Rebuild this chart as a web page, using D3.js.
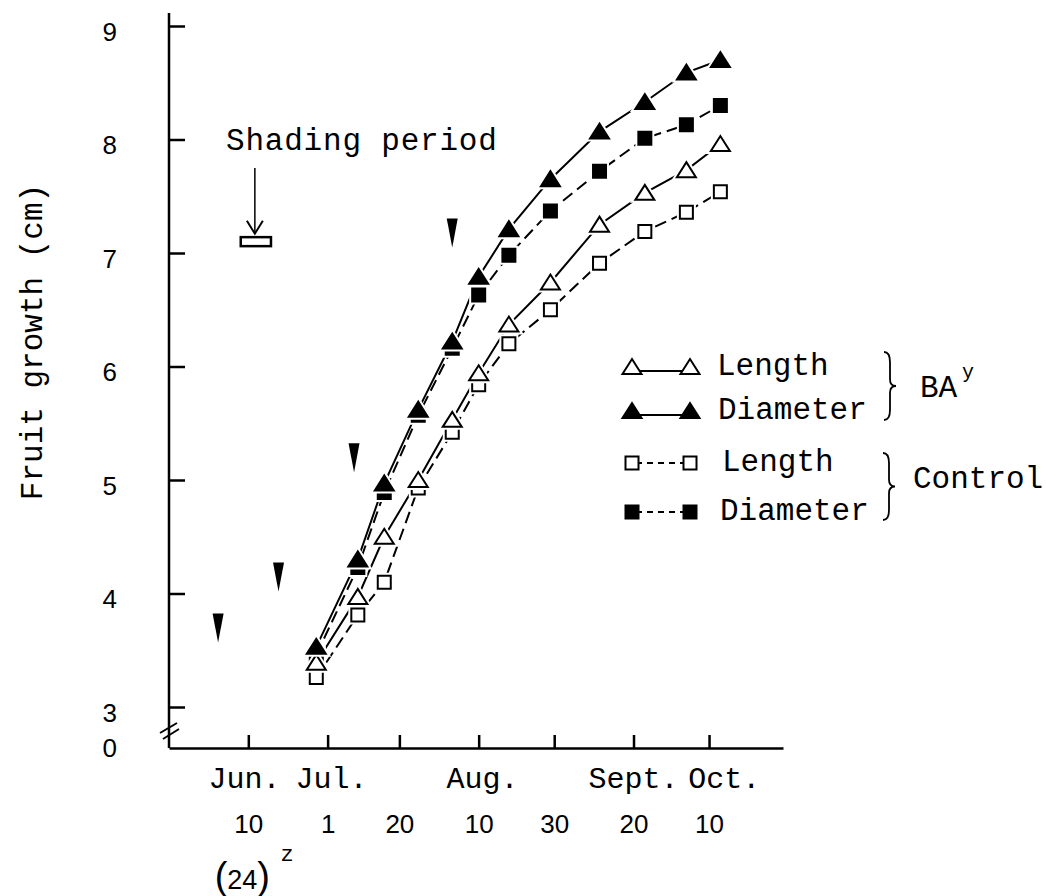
<!DOCTYPE html>
<html>
<head>
<meta charset="utf-8">
<script src="https://cdn.jsdelivr.net/npm/d3@7"></script>
<style>
  body { margin: 0; background: #fff; }
  svg { display: block; }
  .mono { font-family: "Liberation Mono", "Courier New", monospace; }
  .sans { font-family: "Liberation Sans", Arial, sans-serif; }
</style>
</head>
<body>
<div id="chart"></div>
<script>
// ---- data ----
const sampleDates = ['1985-06-28','1985-07-09','1985-07-16','1985-07-25','1985-08-03','1985-08-10',
                     '1985-08-18','1985-08-29','1985-09-11','1985-09-23','1985-10-04','1985-10-13'];
const baLength    = [3.39, 3.97, 4.50, 5.00, 5.53, 5.94, 6.37, 6.74, 7.25, 7.53, 7.73, 7.96];
const baDiameter  = [3.53, 4.30, 4.97, 5.62, 6.22, 6.79, 7.21, 7.65, 8.07, 8.33, 8.59, 8.70];
const ctlLength   = [3.26, 3.81, 4.10, 4.93, 5.42, 5.84, 6.20, 6.50, 6.91, 7.19, 7.36, 7.54];
const ctlDiameter = [3.46, 4.23, 4.89, 5.57, 6.16, 6.63, 6.98, 7.37, 7.72, 8.01, 8.13, 8.30];

const tickDates  = ['1985-06-10','1985-07-01','1985-07-20','1985-08-10','1985-08-30','1985-09-20','1985-10-10'];
const tickLabels = ['10','1','20','10','30','20','10'];
const monthNames = ['Jun.','Jul.','Aug.','Sept.','Oct.'];
const monthDates = ['1985-06-09','1985-07-02','1985-08-11','1985-09-20','1985-10-14'];
const yTicks = [3, 4, 5, 6, 7, 8, 9];

// black arrowheads (treatment dates)
const treatDates  = ['1985-06-02','1985-06-18','1985-07-08','1985-08-03'];
const treatValues = [3.70, 4.15, 5.20, 7.18];

// shading period bar
const shadingDates = ['1985-06-08','1985-06-16'];
const shadingLevel = 7.1;

// ---- layout ----
const W = 1046, H = 896;
const parse = d3.utcParse('%Y-%m-%d');

const x = d3.scaleUtc()
  .domain([parse('1985-05-20'), new Date(Date.UTC(1985, 9, 29, 14))])
  .range([169, 783]);
const y = d3.scaleLinear().domain([3, 9]).range([707, 26]);

const svg = d3.select('#chart').append('svg')
  .attr('width', W).attr('height', H);

// y axis
svg.append('line')
  .attr('x1', 169).attr('x2', 169).attr('y1', 13).attr('y2', 748)
  .attr('stroke', '#000').attr('stroke-width', 2.5);

const yAxisG = svg.append('g')
  .attr('transform', 'translate(169,0)')
  .call(d3.axisLeft(y).tickValues(yTicks).tickFormat(d3.format('d'))
    .tickSizeInner(-16).tickSizeOuter(0).tickPadding(52));
yAxisG.select('.domain').remove();
yAxisG.selectAll('line').attr('stroke', '#000').attr('stroke-width', 2.5);
yAxisG.selectAll('text')
  .attr('class', 'sans').attr('font-size', 26).attr('fill', '#000')
  .attr('dy', '0.55em');

// the "0" at the origin
svg.append('text').attr('class', 'sans')
  .attr('x', 117).attr('y', 748).attr('dy', '0.36em')
  .attr('text-anchor', 'end').attr('font-size', 26).text('0');

// axis break marks
[[160, 733, 177, 723], [163, 739, 179, 729]].forEach(b => {
  svg.append('line')
    .attr('x1', b[0]).attr('y1', b[1]).attr('x2', b[2]).attr('y2', b[3])
    .attr('stroke', '#000').attr('stroke-width', 2);
});

// x axis
const xAxisG = svg.append('g')
  .attr('transform', 'translate(0,748)')
  .call(d3.axisBottom(x)
    .tickValues(tickDates.map(parse))
    .tickSizeInner(-13).tickSizeOuter(0).tickPadding(67)
    .tickFormat((d, i) => tickLabels[i]));
xAxisG.select('.domain').attr('stroke', '#000').attr('stroke-width', 2.5);
xAxisG.selectAll('line').attr('stroke', '#000').attr('stroke-width', 2.5);
xAxisG.selectAll('text').attr('class', 'sans').attr('font-size', 26).attr('fill', '#000');

// month labels
svg.selectAll('.month').data(monthNames).enter().append('text')
  .attr('class', 'mono month')
  .attr('x', (d, i) => x(parse(monthDates[i])))
  .attr('y', 788)
  .attr('text-anchor', 'middle')
  .attr('font-size', 30)
  .text(d => d);

// (24)^z under first tick
const note = svg.append('text').attr('class', 'sans')
  .attr('x', x(parse(tickDates[0])) - 6).attr('y', 889)
  .attr('text-anchor', 'middle').attr('font-size', 27);
note.append('tspan').attr('font-size', 38).attr('font-weight', 300).text('(');
note.append('tspan').text('24');
note.append('tspan').attr('font-size', 38).attr('font-weight', 300).text(')');
svg.append('text').attr('class', 'mono')
  .attr('x', 287).attr('y', 861)
  .attr('text-anchor', 'middle').attr('font-size', 22)
  .text('z');

// y axis title
svg.append('text').attr('class', 'mono')
  .attr('transform', 'translate(42,342) rotate(-90)')
  .attr('text-anchor', 'middle').attr('font-size', 31)
  .text('Fruit growth (cm)');

// ---- markers ----
function markerPath(shape) {
  if (shape === 'tri') return 'M-9.5,7L9.5,7L0,-8Z';
  return 'M-6.5,-6.5H6.5V6.5H-6.5Z';
}

const series = [
  { values: ctlLength,   shape: 'sq',  filled: false, dash: '12,6' },
  { values: ctlDiameter, shape: 'sq',  filled: true,  dash: '12,6' },
  { values: baLength,    shape: 'tri', filled: false, dash: null },
  { values: baDiameter,  shape: 'tri', filled: true,  dash: null }
];

const line = d3.line()
  .x(d => x(d.date))
  .y(d => y(d.v));

series.forEach(s => {
  s.points = s.values.map((v, i) => ({ date: parse(sampleDates[i]), v }));
  svg.append('path')
    .datum(s.points)
    .attr('d', line)
    .attr('fill', 'none')
    .attr('stroke', '#000')
    .attr('stroke-width', 2)
    .attr('stroke-dasharray', s.dash);
});

series.forEach(s => {
  const g = svg.append('g');
  g.selectAll('.halo').data(s.points).enter().append('path')
    .attr('transform', d => `translate(${x(d.date)},${y(d.v)})`)
    .attr('d', markerPath(s.shape))
    .attr('fill', '#fff').attr('stroke', '#fff').attr('stroke-width', 6);
  g.selectAll('.mk').data(s.points).enter().append('path')
    .attr('transform', d => `translate(${x(d.date)},${y(d.v)})`)
    .attr('d', markerPath(s.shape))
    .attr('fill', s.filled ? '#000' : '#fff')
    .attr('stroke', '#000').attr('stroke-width', 2)
    .attr('stroke-linejoin', 'miter');
});

// treatment arrowheads
svg.selectAll('.treat').data(treatValues).enter().append('path')
  .attr('transform', (d, i) => `translate(${x(parse(treatDates[i]))},${y(d)})`)
  .attr('d', 'M-5.5,-14L5.5,-14L0,15Z')
  .attr('fill', '#000');

// shading period
const sx0 = x(parse(shadingDates[0])), sx1 = x(parse(shadingDates[1]));
const sy = y(shadingLevel);
svg.append('rect')
  .attr('x', sx0).attr('y', sy - 4.5)
  .attr('width', sx1 - sx0).attr('height', 9)
  .attr('fill', '#fff').attr('stroke', '#000').attr('stroke-width', 2.5);
const ax = (sx0 + sx1) / 2 - 1;
svg.append('line')
  .attr('x1', ax).attr('x2', ax).attr('y1', 168).attr('y2', sy - 8)
  .attr('stroke', '#000').attr('stroke-width', 1.5);
svg.append('path')
  .attr('d', `M${ax - 8},${sy - 21}L${ax},${sy - 8}L${ax + 8},${sy - 21}`)
  .attr('fill', 'none').attr('stroke', '#000').attr('stroke-width', 2);
svg.append('text').attr('class', 'mono')
  .attr('x', 226).attr('y', 150).attr('font-size', 31)
  .attr('letter-spacing', 0.8)
  .text('Shading period');

// ---- legend ----
const legendRows = [
  { s: series[2], y: 367, text: 'Length',   tx: 717 },
  { s: series[3], y: 411, text: 'Diameter', tx: 718 },
  { s: series[0], y: 463, text: 'Length',   tx: 722 },
  { s: series[1], y: 512, text: 'Diameter', tx: 720 }
];
legendRows.forEach(r => {
  const g = svg.append('g');
  const ly = r.y + (r.s.shape === 'tri' ? 4 : 0);
  g.append('line')
    .attr('x1', 636).attr('x2', 686).attr('y1', ly).attr('y2', ly)
    .attr('stroke', '#000').attr('stroke-width', 2)
    .attr('stroke-dasharray', r.s.dash ? '6,5' : null);
  [632, 690].forEach(px => {
    g.append('path')
      .attr('transform', `translate(${px},${r.y})`)
      .attr('d', markerPath(r.s.shape))
      .attr('fill', r.s.filled ? '#000' : '#fff')
      .attr('stroke', '#000').attr('stroke-width', 2);
  });
  g.append('text').attr('class', 'mono')
    .attr('x', r.tx).attr('y', r.y + 8).attr('font-size', 31)
    .text(r.text);
});

function brace(x0, y0, y1, w) {
  const ym = (y0 + y1) / 2, h = y1 - y0, xm = x0 + w / 2;
  return `M${x0},${y0}Q${xm},${y0} ${xm},${y0 + h * 0.15}` +
         `L${xm},${ym - h * 0.1}Q${xm},${ym} ${x0 + w},${ym}` +
         `Q${xm},${ym} ${xm},${ym + h * 0.1}` +
         `L${xm},${y1 - h * 0.15}Q${xm},${y1} ${x0},${y1}`;
}
svg.append('path').attr('d', brace(884, 352, 420, 12))
  .attr('fill', 'none').attr('stroke', '#000').attr('stroke-width', 1.8);
svg.append('path').attr('d', brace(883, 453, 520, 12))
  .attr('fill', 'none').attr('stroke', '#000').attr('stroke-width', 1.8);

svg.append('text').attr('class', 'mono')
  .attr('x', 920).attr('y', 397).attr('font-size', 31).text('BA');
svg.append('text').attr('class', 'mono')
  .attr('x', 962).attr('y', 378).attr('font-size', 20).text('y');
svg.append('text').attr('class', 'mono')
  .attr('x', 913).attr('y', 488).attr('font-size', 31).text('Control');
</script>
</body>
</html>
